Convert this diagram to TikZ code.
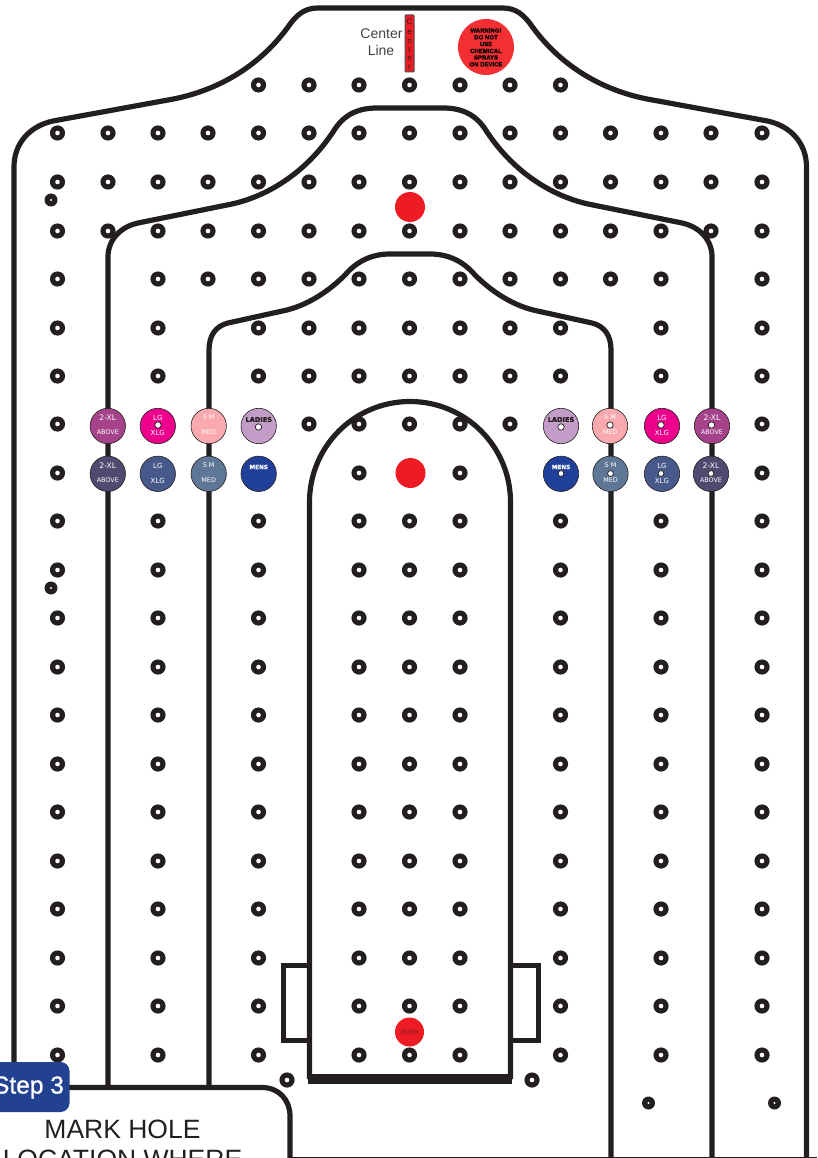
\documentclass[tikz,border=0pt]{standalone}
\usepackage{fontspec}
\setmainfont{Liberation Sans}
\newfontfamily\dvfont{DejaVu Sans}
\newfontfamily\dvbold[FakeBold=0.8]{DejaVu Sans Bold}
\newfontfamily\warnfont[FakeBold=1.2]{Liberation Sans Bold}
\newfontfamily\stepfont[FakeBold=0.9]{Liberation Sans}
\definecolor{ink}{HTML}{231F20}
\definecolor{redspot}{HTML}{ED1C24}
\definecolor{warnred}{HTML}{F42F33}
\definecolor{stepblue}{HTML}{224190}
\definecolor{cPlum}{HTML}{A5438A}
\definecolor{cPink}{HTML}{EC008C}
\definecolor{cRose}{HTML}{FAA9AE}
\definecolor{cLilac}{HTML}{C49CC8}
\definecolor{cDusk}{HTML}{4F4A70}
\definecolor{cSlate}{HTML}{47598A}
\definecolor{cSteel}{HTML}{5F7796}
\definecolor{cNavy}{HTML}{21409A}
\tikzset{
  seam/.style={draw=ink,line width=5.2pt,line join=round},
  tabline/.style={draw=ink,line width=5pt,line join=miter},
  badge/.style={circle,draw=ink,line width=0.6pt,minimum size=35.4pt,inner sep=0pt},
  badgetext/.style={text=white,inner sep=0pt,font=\dvfont\fontsize{7}{7}\selectfont},
  widebadge/.style={text=white,inner sep=0pt,font=\dvfont\fontsize{7.6}{7}\selectfont},
  lowbadge/.style={text=white,inner sep=0pt,font=\dvfont\fontsize{6.4}{7}\selectfont},
  ladytext/.style={text=ink,inner sep=0pt,font=\dvbold\fontsize{6.6}{7}\selectfont},
  mentext/.style={text=white,inner sep=0pt,font=\dvbold\fontsize{5.7}{7}\selectfont},
  eyelet/.style={circle,fill=white,draw=ink,line width=0.7pt,minimum size=6.4pt,inner sep=0pt},
  redspotnode/.style={circle,fill=redspot,minimum size=30pt,inner sep=0pt},
}
\newcommand{\hole}[2]{\fill[ink] (#1,#2) circle (7.6pt);\fill[white] (#1,#2) circle (2.3pt);}
\newcommand{\tinyhole}[2]{\fill[ink] (#1,#2) circle (6.5pt);\fill[white] (#1,#2) circle (1.1pt);}
\def\colsAll{57.5,108,158,208,258.5,309,359,409.5,460,510,560.5,610.5,661,711,762}
\def\colsA{57.5,158,208,258.5,309,359,409.5,460,510,560.5,610.5,661,762}
\def\colsB{57.5,158,258.5,309,359,409.5,460,510,560.5,661,762}
\def\colsC{57.5,158,258.5,359,409.5,460,560.5,661,762}
\begin{document}
\begin{tikzpicture}[x=1pt,y=-1pt]
\useasboundingbox (0,0) rectangle (817,1158);
% outer outline
\draw[seam] (14,1090) -- (14,167) .. controls (14,143) and (30,126) .. (53,121) -- (168,100)
  .. controls (215,92) and (258,68) .. (288,27) .. controls (297,14) and (305,8) .. (318,8)
  -- (502.5,8) .. controls (515.5,8) and (523.5,14) .. (532.5,27)
  .. controls (562.5,68) and (605.5,92) .. (652.5,100) -- (767.5,121)
  .. controls (790.5,126) and (806.5,143) .. (806.5,167) -- (806.5,1158);
% middle outline
\draw[seam] (108,1087) -- (108,257) .. controls (108,240) and (120,227) .. (138,223) -- (227,205)
  .. controls (265,198) and (305,174) .. (333,132) .. controls (342,117) and (355,108) .. (377,108)
  -- (443,108) .. controls (465,108) and (478,117) .. (487,132)
  .. controls (515,174) and (555,198) .. (593,205) -- (682,223)
  .. controls (700,227) and (712,240) .. (712,257) -- (712,1158);
% inner outline
\draw[seam] (209,1087) -- (209,350) .. controls (209,335) and (216,326) .. (228,323) -- (287,310)
  .. controls (310,304) and (330,290) .. (345,275) .. controls (357,261) and (372,254) .. (390,254)
  -- (430,254) .. controls (448,254) and (463,261) .. (475,275)
  .. controls (490,290) and (510,304) .. (533,310) -- (592,323)
  .. controls (604,326) and (611,335) .. (611,350) -- (611,1158);
% centre arch
\draw[seam] (309.5,1079) -- (309.5,502) arc[start angle=180,end angle=360,radius=100.5] -- (510.5,1079);
\draw[draw=ink,line width=9.5pt] (308,1079) -- (512,1079);
% side tabs
\draw[tabline] (310,965) -- (283,965) -- (283,1040) -- (310,1040);
\draw[tabline] (510,965) -- (538,965) -- (538,1040) -- (510,1040);
% bottom panel
\draw[seam] (60,1087.5) -- (262,1087.5) .. controls (279,1087.5) and (290,1100) .. (290,1116) -- (290,1158);
\draw[draw=ink,line width=1.5pt] (290,1157.3) -- (817,1157.3);
% holes
\foreach \y in {85}{\foreach \x in {258.5,309,359,409.5,460,510,560.5}{\hole{\x}{\y}}}
\foreach \y in {133,182,231}{\foreach \x in \colsAll {\hole{\x}{\y}}}
\foreach \y in {279}{\foreach \x in \colsA {\hole{\x}{\y}}}
\foreach \y in {328,376}{\foreach \x in \colsB {\hole{\x}{\y}}}
\foreach \x in {57.5,309,359,409.5,460,510,762}{\hole{\x}{424}}
\foreach \x in {57.5,359,460,762}{\hole{\x}{473}}
\foreach \y in {521,570,618,667,715,764,812,861,909,958,1006,1055}{\foreach \x in \colsC {\hole{\x}{\y}}}
\tinyhole{51}{200}
\tinyhole{51}{588}
\hole{287}{1080}
\hole{532}{1080}
\tinyhole{648.5}{1103}
\tinyhole{774.5}{1103}
% red spots
\node[redspotnode] (spotA) at (410,207) {};
\node[redspotnode] (spotB) at (410.5,473) {};
\node[redspotnode,minimum size=29pt] (push) at (409.5,1032) {};
\node[inner sep=0pt,text=ink!70!redspot,font=\fontsize{6.3}{7}\selectfont] (pushtext) at (push.center) {PUSH};
% warning
\node[circle,fill=warnred,minimum size=56pt,inner sep=0pt] (warn) at (486,47) {};
\foreach \t/\y [count=\i] in {WARNING!/30.5,DO NOT/37.3,USE/44,CHEMICAL/51,SPRAYS/57.5,ON DEVICE/64.3}{
  \node[inner sep=0pt,text=black,font=\warnfont\fontsize{6}{6}\selectfont] (warn\i) at (486,\y) {\t};}
% centre strip
\node[draw=ink!80,line width=1pt,fill=redspot,rounded corners=0.8pt,minimum width=9pt,minimum height=57pt,inner sep=0pt] (strip) at (409.5,43.5) {};
\foreach \c/\y [count=\i] in {C/22,e/32,n/41,t/49.5,e/58,r/67}{
  \node[inner sep=0pt,text=ink,font=\fontsize{8}{8}\selectfont] (strip\i) at (409.5,\y) {\c};}
\node[inner sep=0pt,text=ink!85,font=\fontsize{14}{16}\selectfont] (centerword) at (381.5,34) {Center};
\node[inner sep=0pt,text=ink!85,font=\fontsize{14}{16}\selectfont] (lineword) at (381,50) {Line};
% badges left
\node[badge,fill=cPlum] (a1) at (107.8,426) {};
\node[badge,fill=cPink] (a2) at (157.8,426) {};
\node[badge,fill=cRose] (a3) at (208.7,426) {};
\node[badge,fill=cLilac] (a4) at (258.7,426) {};
\node[badge,fill=cDusk] (b1) at (107.8,473.8) {};
\node[badge,fill=cSlate] (b2) at (157.8,473.8) {};
\node[badge,fill=cSteel] (b3) at (208.7,473.8) {};
\node[badge,fill=cNavy] (b4) at (258.7,473.8) {};
% badges right
\node[badge,fill=cLilac] (c1) at (561,426) {};
\node[badge,fill=cRose] (c2) at (610,426) {};
\node[badge,fill=cPink] (c3) at (662,426) {};
\node[badge,fill=cPlum] (c4) at (712,426) {};
\node[badge,fill=cNavy] (d1) at (561,473.8) {};
\node[badge,fill=cSteel] (d2) at (610.5,473.8) {};
\node[badge,fill=cSlate] (d3) at (662,473.8) {};
\node[badge,fill=cDusk] (d4) at (711,473.8) {};
% badge eyelets
\node[eyelet] (ea) at (158,425) {};
\node[eyelet] (eb) at (258.5,427) {};
\node[eyelet] (ec) at (561,427) {};
\node[eyelet] (ed) at (610,425) {};
\node[eyelet] (ee) at (661,425) {};
\node[eyelet] (ef) at (711.5,425) {};
\node[eyelet,minimum size=5.8pt] (eg) at (561,473.5) {};
\node[eyelet,minimum size=5.8pt] (eh) at (610.5,473.5) {};
\node[eyelet,minimum size=5.8pt] (ei) at (661,473.5) {};
\node[eyelet,minimum size=5.8pt] (ej) at (711,473.5) {};
% badge texts
\foreach \n/\xx in {a1/107.8,c4/712}{
  \node[widebadge] (\n t) at (\xx,417.5) {2-XL};
  \node[lowbadge] (\n u) at (\xx,432.5) {ABOVE};}
\foreach \n/\xx in {b1/107.8,d4/711}{
  \node[widebadge] (\n t) at (\xx,465.5) {2-XL};
  \node[lowbadge] (\n u) at (\xx,480.5) {ABOVE};}
\foreach \n/\xx in {a2/157.8,c3/662}{
  \node[badgetext] (\n t) at (\xx,417.5) {LG};
  \node[badgetext] (\n u) at (\xx,432.5) {XLG};}
\foreach \n/\xx in {b2/157.8,d3/662}{
  \node[badgetext] (\n t) at (\xx,465.5) {LG};
  \node[badgetext] (\n u) at (\xx,480.5) {XLG};}
\foreach \n/\xx in {a3/208.7,c2/610}{
  \node[lowbadge] (\n t) at (\xx,417.5) {S M};
  \node[lowbadge] (\n u) at (\xx,432.5) {MED};}
\foreach \n/\xx in {b3/208.7,d2/610.5}{
  \node[lowbadge] (\n t) at (\xx,465.5) {S M};
  \node[lowbadge] (\n u) at (\xx,480.5) {MED};}
\node[ladytext] (a4t) at (258.7,419.5) {LADIES};
\node[ladytext] (c1t) at (561,419.5) {LADIES};
\node[mentext] (b4t) at (258.7,467) {MENS};
\node[mentext] (d1t) at (561,467) {MENS};
% step box and panel text
\node[fill=stepblue,rounded corners=9pt,minimum width=95pt,minimum height=50pt,inner sep=0pt] (stepbox) at (22,1087) {};
\node[inner sep=0pt,text=white,font=\stepfont\fontsize{24.5}{26}\selectfont] (steptext) at (28.5,1087.5) {Step 3};
\node[anchor=base,inner sep=0pt,text=ink,font=\fontsize{26.5}{30}\selectfont] (mark) at (122.5,1138) {MARK HOLE};
\node[anchor=base,inner sep=0pt,text=ink,font=\fontsize{26.5}{30}\selectfont] (loc) at (122.5,1168) {LOCATION WHERE};
\end{tikzpicture}
\end{document}
